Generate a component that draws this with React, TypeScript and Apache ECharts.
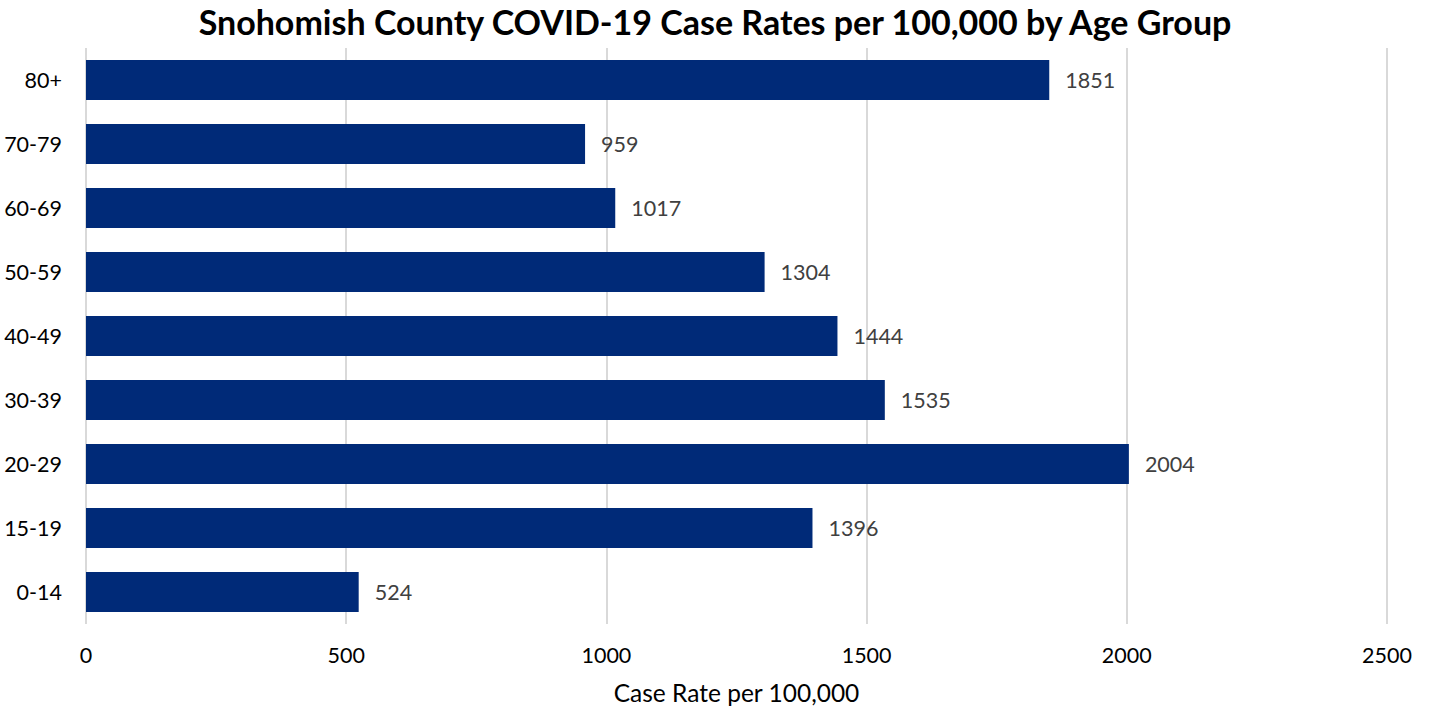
import React, { useEffect, useRef } from "react";
import * as echarts from "echarts";

const categories = ["0-14", "15-19", "20-29", "30-39", "40-49", "50-59", "60-69", "70-79", "80+"];
const caseRates = [524, 1396, 2004, 1535, 1444, 1304, 1017, 959, 1851];
const xTicks = { min: 0, max: 2500, interval: 500 };

const FONT = "Lato";

export default function App() {
  const ref = useRef<HTMLDivElement>(null);
  useEffect(() => {
    if (!ref.current) return;
    const chart = echarts.init(ref.current, undefined, { renderer: "svg" });
    chart.setOption({
      animation: false,
      backgroundColor: "#ffffff",
      title: {
        text: "Snohomish County COVID-19 Case Rates per 100,000 by Age Group",
        left: "center",
        top: -1,
        textStyle: { fontFamily: FONT, fontWeight: "bold", fontSize: 34, color: "#000000" },
      },
      grid: { left: 86, right: 43, top: 48, bottom: 85, containLabel: false },
      xAxis: {
        type: "value",
        min: xTicks.min,
        max: xTicks.max,
        interval: xTicks.interval,
        name: "Case Rate per 100,000",
        nameLocation: "middle",
        nameGap: 56,
        nameTextStyle: { fontFamily: FONT, fontSize: 24.5, color: "#000000" },
        axisLine: { show: false },
        axisTick: { show: false },
        axisLabel: {
          fontFamily: FONT,
          fontSize: 21.5,
          color: "#000000",
          margin: 20,
          formatter: (v: number) => String(v),
        },
        splitLine: { show: true, lineStyle: { color: "#d9d9d9", width: 2 } },
      },
      yAxis: {
        type: "category",
        data: categories,
        axisLine: { show: false },
        axisTick: { show: false },
        axisLabel: { fontFamily: FONT, fontSize: 21.5, color: "#000000", margin: 24 },
        splitLine: { show: false },
      },
      series: [
        {
          type: "bar",
          data: caseRates,
          barWidth: 40,
          itemStyle: { color: "#002A78" },
          label: {
            show: true,
            position: "right",
            distance: 16,
            fontFamily: FONT,
            fontSize: 21.5,
            color: "#404040",
          },
        },
      ],
    });
    return () => chart.dispose();
  }, []);
  return (
    <div
      ref={ref}
      style={{ position: "fixed", left: 0, top: 0, width: 1430, height: 710, background: "#fff" }}
    />
  );
}
